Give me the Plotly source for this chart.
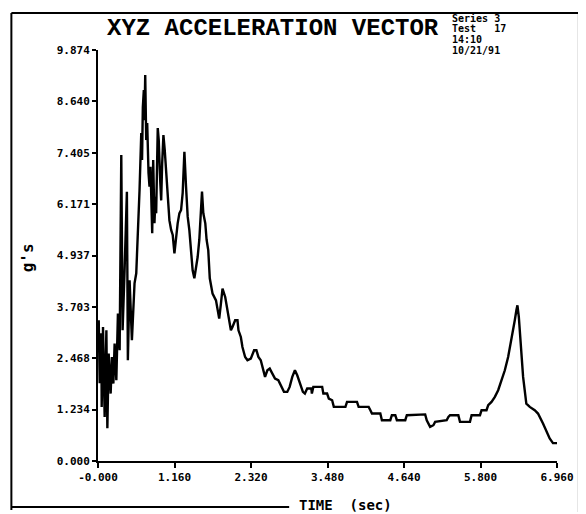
import plotly.graph_objects as go

# Time (sec) and acceleration (g's)
time_s = [0.011, 0.026, 0.051, 0.056, 0.076, 0.101, 0.127, 0.142, 0.162, 0.192,
          0.211, 0.233, 0.252, 0.278, 0.302, 0.328, 0.353, 0.373, 0.403, 0.438,
          0.453, 0.479, 0.514, 0.539, 0.554, 0.580, 0.604, 0.630, 0.656, 0.668,
          0.680, 0.695, 0.705, 0.716, 0.731, 0.746, 0.766, 0.781, 0.796, 0.811,
          0.822, 0.837, 0.856, 0.872, 0.882, 0.906, 0.921, 0.943, 0.958, 0.973,
          0.992, 1.012, 1.033, 1.057, 1.083, 1.109, 1.133, 1.159, 1.184, 1.208,
          1.234, 1.260, 1.284, 1.310, 1.335, 1.360, 1.385, 1.411, 1.435, 1.461,
          1.486, 1.511, 1.536, 1.562, 1.577, 1.597, 1.627, 1.647, 1.672, 1.695,
          1.737, 1.789, 1.813, 1.838, 1.864, 1.888, 1.929, 1.964, 1.989, 2.015,
          2.039, 2.080, 2.115, 2.130, 2.166, 2.190, 2.231, 2.266, 2.317, 2.367,
          2.402, 2.432, 2.468, 2.503, 2.533, 2.568, 2.604, 2.644, 2.684, 2.734,
          2.770, 2.820, 2.870, 2.906, 2.946, 2.986, 3.021, 3.073, 3.107, 3.137,
          3.172, 3.235, 3.243, 3.265, 3.399, 3.417, 3.474, 3.500, 3.550, 3.576,
          3.752, 3.776, 3.927, 3.952, 4.104, 4.130, 4.154, 4.281, 4.305, 4.432,
          4.456, 4.508, 4.532, 4.659, 4.683, 4.961, 4.985, 5.036, 5.086, 5.112,
          5.287, 5.313, 5.338, 5.464, 5.489, 5.640, 5.665, 5.792, 5.816, 5.891,
          5.917, 5.967, 6.018, 6.068, 6.118, 6.169, 6.219, 6.269, 6.320, 6.344,
          6.360, 6.381, 6.411, 6.446, 6.495, 6.547, 6.622, 6.672, 6.748, 6.798,
          6.849, 6.899, 6.960]
accel_g = [3.38, 1.87, 3.07, 1.30, 3.22, 1.06, 3.14, 0.79, 2.58, 1.62,
           2.50, 1.86, 2.82, 1.94, 3.54, 2.66, 7.35, 3.14, 4.58, 6.47,
           2.42, 4.34, 2.90, 3.86, 4.27, 4.51, 5.30, 6.51, 7.88, 7.23,
           8.50, 8.91, 8.19, 9.27, 7.71, 8.12, 6.92, 6.59, 7.07, 5.95,
           5.47, 7.23, 5.71, 6.35, 5.95, 8.00, 7.71, 6.74, 6.26, 7.15,
           7.83, 7.47, 6.99, 6.51, 5.78, 5.55, 5.43, 4.99, 5.38, 5.71,
           5.95, 6.03, 6.44, 7.43, 6.59, 5.87, 5.55, 4.99, 4.58, 4.39,
           4.66, 4.90, 5.31, 6.03, 6.47, 5.95, 5.71, 5.31, 5.06, 4.39,
           4.02, 3.86, 3.62, 3.42, 3.78, 4.14, 3.94, 3.62, 3.38, 3.14,
           3.22, 3.38, 3.38, 3.14, 2.98, 2.74, 2.50, 2.42, 2.46, 2.66,
           2.66, 2.50, 2.42, 2.18, 2.02, 2.18, 2.22, 2.10, 1.98, 1.94,
           1.82, 1.66, 1.66, 1.78, 2.02, 2.18, 2.06, 1.78, 1.66, 1.62,
           1.74, 1.74, 1.62, 1.78, 1.78, 1.62, 1.62, 1.50, 1.46, 1.30,
           1.30, 1.42, 1.42, 1.30, 1.30, 1.22, 1.14, 1.14, 0.98, 0.98,
           1.10, 1.10, 0.98, 0.98, 1.10, 1.12, 0.98, 0.82, 0.86, 0.94,
           0.98, 1.06, 1.10, 1.10, 0.94, 0.94, 1.10, 1.10, 1.22, 1.22,
           1.34, 1.42, 1.54, 1.70, 1.94, 2.18, 2.50, 2.90, 3.38, 3.62,
           3.74, 3.46, 2.74, 2.02, 1.38, 1.30, 1.22, 1.14, 0.90, 0.74,
           0.54, 0.43, 0.43]

x_ticks = [0.0, 1.16, 2.32, 3.48, 4.64, 5.80, 6.96]
x_tick_text = ["-0.000", "1.160", "2.320", "3.480", "4.640", "5.800", "6.960"]
y_ticks = [0.0, 1.234, 2.468, 3.703, 4.937, 6.171, 7.405, 8.640, 9.874]
y_tick_text = ["0.000", "1.234", "2.468", "3.703", "4.937", "6.171", "7.405", "8.640", "9.874"]

title_text = "XYZ ACCELERATION VECTOR"
info_lines = ["Series 3", "Test   17", "14:10", "10/21/91"]
x_title = "TIME  (sec)"
y_title = "g's"

# the page body has an 8px margin, so figure coordinates = screen coordinates - 8
OFF = 8
W, H = 586 - OFF, 514 - OFF
L, R, T, B = 98 - OFF, 559 - OFF, 50 - OFF, 461 - OFF  # plot area in figure pixels


def px(x):  # screen x -> paper
    return (x - OFF - L) / (R - L)


def py(y):  # screen y -> paper
    return (B - (y - OFF)) / (B - T)


mono = "DejaVu Sans Mono"

fig = go.Figure()
fig.add_trace(go.Scatter(x=time_s, y=accel_g, mode="lines",
                         line=dict(color="black", width=2.4), showlegend=False))

axis_common = dict(showline=True, linecolor="black", linewidth=2, ticks="outside",
                   tickcolor="black", tickwidth=2, showgrid=False, zeroline=False,
                   tickfont=dict(family=mono, size=11, color="black"))

fig.update_layout(
    width=W, height=H, autosize=False,
    margin=dict(l=L, r=W - R, t=T, b=H - B),
    paper_bgcolor="white", plot_bgcolor="white",
    xaxis=dict(range=[0, 6.96], tickvals=x_ticks,
               ticktext=[f"<b>{t}</b>" for t in x_tick_text], ticklen=5, **axis_common),
    yaxis=dict(range=[0, 9.874], tickvals=y_ticks,
               ticktext=[f"<b>{t}</b>" for t in y_tick_text], ticklen=4, **axis_common),
)

# frame around the whole chart
line_style = dict(color="black", width=2)
fig.add_shape(type="line", xref="paper", yref="paper", x0=px(11), x1=px(581), y0=py(13), y1=py(13), line=line_style)
fig.add_shape(type="line", xref="paper", yref="paper", x0=px(11), x1=px(11), y0=py(13), y1=py(510), line=line_style)
fig.add_shape(type="line", xref="paper", yref="paper", x0=px(581), x1=px(581), y0=py(13), y1=py(512), line=line_style)
fig.add_shape(type="line", xref="paper", yref="paper", x0=px(11), x1=px(290), y0=py(507), y1=py(507), line=line_style)

fig.add_annotation(text=f"<b>{title_text}</b>", xref="paper", yref="paper",
                   x=px(274), y=py(28), xanchor="center", yanchor="middle", showarrow=False,
                   font=dict(family="Liberation Mono", size=24, color="black"))

for i, ln in enumerate(info_lines):
    fig.add_annotation(text=f"<b>{ln}</b>", xref="paper", yref="paper",
                       x=px(452), y=py(18 + i * 10.7), xanchor="left", yanchor="middle",
                       showarrow=False, font=dict(family=mono, size=10, color="black"))

fig.add_annotation(text=f"<b>{x_title}</b>", xref="paper", yref="paper",
                   x=px(347), y=py(505), xanchor="center", yanchor="middle", showarrow=False,
                   bgcolor="white", borderpad=0, font=dict(family=mono, size=14, color="black"))

fig.add_annotation(text=f"<b>{y_title}</b>", xref="paper", yref="paper",
                   x=px(27), y=py(258), xanchor="center", yanchor="middle", showarrow=False,
                   textangle=-90, font=dict(family=mono, size=16, color="black"))

fig.write_html("out.html")
